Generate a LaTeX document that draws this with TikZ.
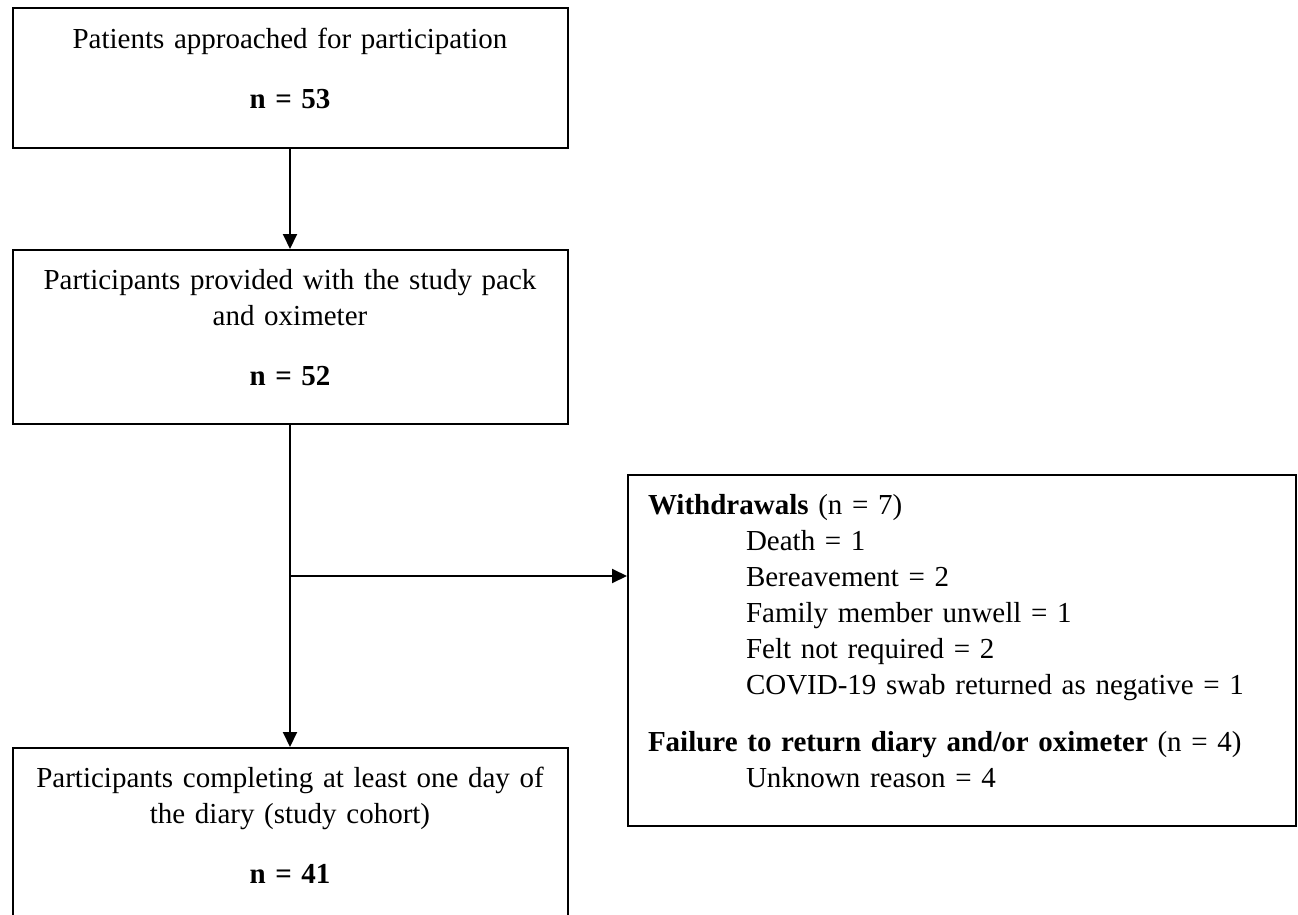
\documentclass[tikz,border=0pt]{standalone}
\usepackage{fontspec}
\setmainfont{Liberation Serif}
\usetikzlibrary{arrows.meta}

\tikzset{
  flowbox/.style={draw, line width=2pt, text width=535pt, align=center,
    inner xsep=10pt, inner ysep=19pt, minimum width=555pt, anchor=north},
  reasonbox/.style={draw, line width=2pt, text width=628pt, align=left,
    inner xsep=20pt, inner ysep=19pt, minimum width=668pt, anchor=north west},
  flow/.style={-{Triangle[length=15pt,width=14pt]}, line width=2pt},
}
\newcommand{\reasonind}{\hspace*{98pt}}
\newcommand{\boxfoot}{\rule[-20pt]{0pt}{20pt}}

\begin{document}
\begin{tikzpicture}[x=1pt, y=1pt, font=\fontsize{29}{36}\selectfont]
  \useasboundingbox (0,0) rectangle (1298,-915);

  \node[flowbox, minimum height=140pt] (approach) at (290,-7)
    {Patients approached for participation\\[24pt]\textbf{n = 53}\boxfoot};
  \node[flowbox] (provided) at (290,-249)
    {Participants provided with the study pack\\and oximeter\\[24pt]\textbf{n = 52}\boxfoot};
  \node[flowbox] (cohort) at (290,-747)
    {Participants completing at least one day of\\the diary (study cohort)\\[24pt]\textbf{n = 41}\boxfoot};

  \node[reasonbox] (reasons) at (627,-474)
    {\textbf{Withdrawals} (n = 7)\\
     \reasonind Death = 1\\
     \reasonind Bereavement = 2\\
     \reasonind Family member unwell = 1\\
     \reasonind Felt not required = 2\\
     \reasonind COVID-19 swab returned as negative = 1\\[21pt]
     \textbf{Failure to return diary and/or oximeter} (n = 4)\\
     \reasonind Unknown reason = 4\boxfoot};

  \coordinate (split) at (290,-576);

  \draw[flow] (approach.south) -- (provided.north);
  \draw[flow] (provided.south) -- (cohort.north);
  \draw[flow] (split) -- (split -| reasons.west);
\end{tikzpicture}
\end{document}
